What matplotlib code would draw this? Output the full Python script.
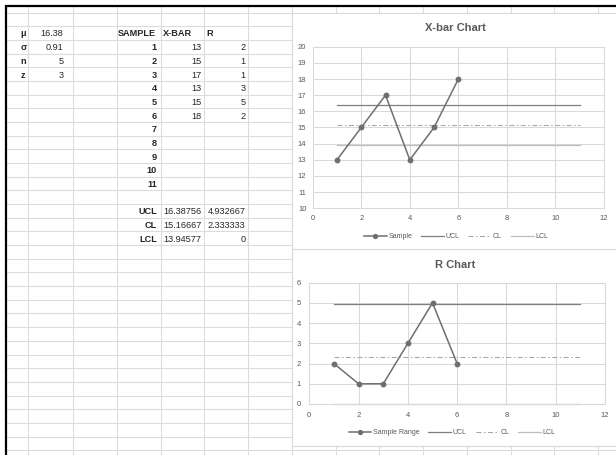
import matplotlib.pyplot as plt
from matplotlib.patches import Rectangle
from matplotlib.lines import Line2D

plt.rcParams['font.family'] = ['Liberation Sans', 'DejaVu Sans']

# worksheet values
param_names = ['μ', 'σ', 'n', 'z']
param_values = [16.38, 0.91, 5, 3]

samples = [1, 2, 3, 4, 5, 6, 7, 8, 9, 10, 11]
xbar = [13, 15, 17, 13, 15, 18]
ranges = [2, 1, 1, 3, 5, 2]

limit_names = ['UCL', 'CL', 'LCL']
xbar_limits = [16.38756, 15.16667, 13.94577]
r_limits = [4.932667, 2.333333, 0]

W, H = 616, 455
fig = plt.figure(figsize=(W / 100, H / 100), dpi=100)


def fx(x):
    return x / W


def fy(y):
    return 1 - y / H


# ---- sheet background: cell grid, text ----
bg = fig.add_axes([0, 0, 1, 1])
bg.set_xlim(0, W)
bg.set_ylim(H, 0)
bg.axis('off')

grid_c = '#dcdcdc'
col_lines = [28] + [73 + 43.75 * k for k in range(13)]
row_lines = [12.5 + 13.68 * k for k in range(33)]
for x in col_lines:
    bg.plot([x, x], [6, H], color=grid_c, lw=0.8, zorder=1)
for y in row_lines:
    bg.plot([6, W], [y, y], color=grid_c, lw=0.8, zorder=1)

bg.plot([5, W], [5.7, 5.7], color='black', lw=1.6, zorder=5, solid_capstyle='butt')
bg.plot([6, 6], [5, H], color='black', lw=1.6, zorder=5, solid_capstyle='butt')


def row_y(i):
    # i = 0 is the header row (μ / SAMPLE)
    return row_lines[1] + 7.8 + 13.68 * i


txt = dict(fontsize=6.6, color='#262626', va='center')
for i, (name, val) in enumerate(zip(param_names, param_values)):
    bg.text(20.5, row_y(i), name, ha='left', fontweight='bold', **txt)
    bg.text(63.5, row_y(i), f'{val:g}', ha='right', **txt)

bg.text(118, row_y(0), 'SAMPLE', ha='left', fontweight='bold', **txt)
bg.text(163, row_y(0), 'X-BAR', ha='left', fontweight='bold', **txt)
bg.text(206, row_y(0), 'R', ha='left', fontweight='bold', **txt)

for i, s in enumerate(samples):
    bg.text(157, row_y(i + 1), str(s), ha='right', fontweight='bold', **txt)
for i, (xb, r) in enumerate(zip(xbar, ranges)):
    bg.text(201.5, row_y(i + 1), str(xb), ha='right', **txt)
    bg.text(245.5, row_y(i + 1), str(r), ha='right', **txt)

for i, (name, xl, rl) in enumerate(zip(limit_names, xbar_limits, r_limits)):
    y = row_y(len(samples) + 2 + i)
    bg.text(157, y, name, ha='right', fontweight='bold', **txt)
    bg.text(201.5, y, f'{xl:.7g}', ha='right', **txt)
    bg.text(245.5, y, f'{rl:.7g}', ha='right', **txt)

# chart objects sit on top of the cells
bg.add_patch(Rectangle((291.5, 13), 340, 236.3, fc='white', ec='#d9d9d9', lw=0.8, zorder=4))
bg.add_patch(Rectangle((291.5, 249.3), 340, 196.7, fc='white', ec='#d9d9d9', lw=0.8, zorder=4))

# ---- control charts ----
sample_c = '#6f6f6f'
ucl_c = '#7f7f7f'
cl_c = '#a5a5a5'
lcl_c = '#bdbdbd'
dashdot = (0, (4.8, 2.4, 1.4, 2.4))
tick_c = '#595959'


def control_chart(rect, values, limits, ylim, yticks, title, title_xy,
                  series_label, legend_xy, ypad, xpad):
    ax = fig.add_axes(rect)
    xs = samples[:len(values)]
    span = [samples[0], samples[-1]]
    ax.plot(span, [limits[0]] * 2, color=ucl_c, lw=0.9, zorder=2)
    ax.plot(span, [limits[1]] * 2, color=cl_c, lw=0.75, ls=dashdot, zorder=2)
    ax.plot(span, [limits[2]] * 2, color=lcl_c, lw=0.9, zorder=2, clip_on=False)
    ax.plot(xs, values, color=sample_c, lw=1.1, marker='o', ms=3.2,
            mfc=sample_c, mec=sample_c, zorder=3, clip_on=False)

    ax.set_xlim(0, 12)
    ax.set_xticks(range(0, 13, 2))
    ax.set_ylim(*ylim)
    ax.set_yticks(yticks)
    ax.grid(color='#d9d9d9', lw=0.75)
    ax.set_axisbelow(True)
    for sp in ax.spines.values():
        sp.set_color('#d9d9d9')
        sp.set_linewidth(0.75)
    ax.tick_params(length=0, labelsize=5.5, labelcolor=tick_c)
    ax.tick_params(axis='y', pad=ypad)
    ax.tick_params(axis='x', pad=xpad)

    fig.text(fx(title_xy[0]), fy(title_xy[1]), title, ha='center', va='center',
             fontsize=8, fontweight='bold', color=tick_c)

    handles = [
        Line2D([], [], color=sample_c, lw=1.1, marker='o', ms=2.8),
        Line2D([], [], color=ucl_c, lw=0.9),
        Line2D([], [], color=cl_c, lw=0.75, ls=dashdot),
        Line2D([], [], color=lcl_c, lw=0.9),
    ]
    leg = ax.legend(handles, [series_label] + limit_names, loc='center',
                    bbox_to_anchor=(fx(legend_xy[0]), fy(legend_xy[1])),
                    bbox_transform=fig.transFigure, ncol=4, frameon=False,
                    fontsize=5, handlelength=3.3, handletextpad=0.2,
                    columnspacing=1.3)
    for t in leg.get_texts():
        t.set_color(tick_c)
    return ax


control_chart([fx(312.7), fy(208.3), fx(604) - fx(312.7), (208.3 - 46.7) / H],
              xbar, xbar_limits, (10, 20), range(10, 21),
              'X-bar Chart', (455, 28), 'Sample', (456, 236.7), 4.5, 5)

control_chart([fx(309.3), fy(404), fx(605) - fx(309.3), (404 - 282.7) / H],
              ranges, r_limits, (0, 6), range(0, 7),
              'R Chart', (455, 265), 'Sample Range', (452, 432.7), 6, 5.5)

fig.savefig('out.png', dpi=100)
